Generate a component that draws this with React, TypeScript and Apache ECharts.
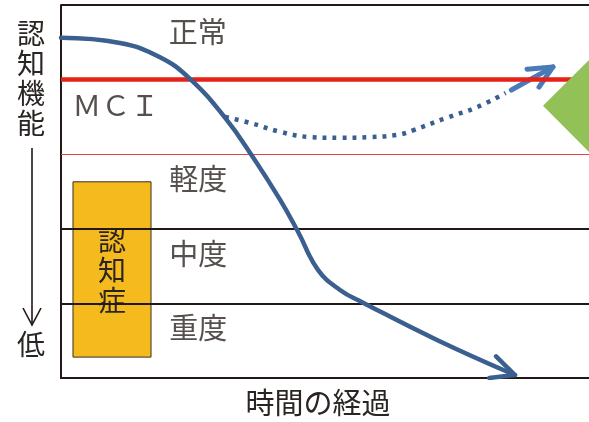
import React, { useEffect, useRef } from "react";
import * as echarts from "echarts";

// x: elapsed time (0-100), y: cognitive function level (0-5)
const bandLevels = [5, 4, 3, 2, 1];
const bandLabels = ["正常", "ＭＣＩ", "軽度", "中度", "重度"];
const bandLabelPos: [number, number][] = [
  [20.3, 4.67],
  [2.05, 3.68],
  [20.4, 2.69],
  [20.4, 1.69],
  [20.4, 0.7],
];

const mainCurve: [number, number][] = [
  [0.0, 4.56], [11.17, 4.49], [18.75, 4.3], [24.43, 4.01], [31.06, 3.49],
  [36.17, 2.98], [41.48, 2.39], [44.89, 1.96], [48.67, 1.45], [52.84, 1.18],
  [57.2, 1.01], [71.21, 0.51], [85.98, 0.04],
];
const mainHead: [number, number][] = [[82.4, 0.29], [85.98, 0.04], [81.1, 0.0]];

const mciCurve: [number, number][] = [
  [31.06, 3.5], [35.8, 3.42], [41.48, 3.3], [47.16, 3.23], [52.84, 3.22],
  [58.52, 3.23], [63.83, 3.26], [66.67, 3.32], [73.11, 3.49], [78.79, 3.63],
  [84.2, 3.82],
];
const mciShaft: [number, number][] = [[85.3, 3.86], [93.18, 4.17]];
const mciHead: [number, number][] = [[88.26, 4.14], [93.18, 4.17], [90.53, 3.9]];

const triangle: [number, number][] = [[91.29, 3.65], [102.1, 4.41], [102.1, 2.88]];

const dementiaBox = { x: [2.27, 17.05], y: [0.28, 2.63], label: "認\n知\n症" };

const yAxisTitle = "認\n知\n機\n能";
const yAxisLow = "低";
const xAxisTitle = "時間の経過";

const FONT = "'Noto Sans CJK JP', 'Noto Sans', sans-serif";
const TXT = "#2a2422";

export default function App() {
  const ref = useRef<HTMLDivElement>(null);
  useEffect(() => {
    if (!ref.current) return;
    const chart = echarts.init(ref.current, undefined, { renderer: "svg" });
    const lineStyles = [
      { color: "#231815", width: 2, type: "solid" },
      { color: "#e62117", width: 4.5, type: "solid" },
      { color: "#e0454a", width: 1.2, type: "solid" },
      { color: "#231815", width: 2, type: "solid" },
      { color: "#231815", width: 2, type: "solid" },
    ];
    chart.setOption({
      animation: false,
      grid: { left: 61, right: 0, top: 5, bottom: 44 },
      xAxis: {
        type: "value",
        min: 0,
        max: 100,
        axisLine: { show: true, lineStyle: { color: "#231815", width: 2 } },
        axisTick: { show: false },
        axisLabel: { show: false },
        splitLine: { show: false },
      },
      yAxis: {
        type: "value",
        min: 0,
        max: 5,
        axisLine: { show: true, lineStyle: { color: "#231815", width: 2 } },
        axisTick: { show: false },
        axisLabel: { show: false },
        splitLine: { show: false },
      },
      graphic: [
        {
          type: "text",
          x: 31,
          y: 77,
          style: {
            text: yAxisTitle,
            fontSize: 28,
            fontFamily: FONT,
            lineHeight: 30,
            fill: TXT,
            align: "center",
            verticalAlign: "middle",
          },
        },
        {
          type: "line",
          shape: { x1: 32, y1: 148, x2: 32, y2: 325 },
          style: { stroke: "#231815", lineWidth: 1.6 },
        },
        {
          type: "polyline",
          shape: { points: [[23, 308], [32, 325], [41, 308]] },
          style: { stroke: "#231815", lineWidth: 1.6, fill: null },
        },
        {
          type: "text",
          x: 31,
          y: 343,
          style: { text: yAxisLow, fontSize: 28, fontFamily: FONT, fill: TXT, align: "center", verticalAlign: "middle" },
        },
        {
          type: "text",
          x: 318,
          y: 401,
          style: { text: xAxisTitle, fontSize: 29, fontFamily: FONT, fill: TXT, align: "center", verticalAlign: "middle" },
        },
      ],
      series: [
        {
          type: "line",
          z: 1,
          data: [],
          markLine: {
            silent: true,
            symbol: "none",
            label: { show: false },
            data: bandLevels.map((v, i) => ({ yAxis: v, lineStyle: lineStyles[i] })),
          },
        },
        {
          type: "line",
          z: 2,
          data: [],
          markArea: {
            silent: true,
            itemStyle: { color: "#f4ba1e", borderColor: "#3a2f20", borderWidth: 1 },
            label: {
              show: true,
              position: "inside",
              color: TXT,
              fontFamily: FONT,
              fontSize: 28,
              lineHeight: 30,
            },
            data: [
              [
                { name: dementiaBox.label, xAxis: dementiaBox.x[0], yAxis: dementiaBox.y[1] },
                { xAxis: dementiaBox.x[1], yAxis: dementiaBox.y[0] },
              ],
            ],
          },
        },
        {
          type: "scatter",
          z: 3,
          symbolSize: 1,
          itemStyle: { color: "rgba(0,0,0,0)" },
          label: {
            show: true,
            position: "right",
            distance: 0,
            formatter: (p: any) => p.data[2],
            color: TXT,
            fontFamily: FONT,
            fontSize: 29,
          },
          data: bandLabelPos.map((p, i) => [p[0], p[1], bandLabels[i]]),
        },
        {
          type: "line",
          z: 4,
          data: mciCurve,
          smooth: 0.4,
          showSymbol: false,
          lineStyle: { color: "#3a5f8f", width: 4.5, type: [4, 6], cap: "butt" },
        },
        {
          type: "line",
          z: 4,
          data: mciShaft,
          showSymbol: false,
          lineStyle: { color: "#4a7ab8", width: 5, cap: "round" },
        },
        {
          type: "line",
          z: 4,
          data: mciHead,
          showSymbol: false,
          lineStyle: { color: "#4a7ab8", width: 5, cap: "round", join: "round" },
        },
        {
          type: "line",
          z: 5,
          data: mainCurve,
          smooth: 0.45,
          showSymbol: false,
          lineStyle: { color: "#3b5f8e", width: 4.5, cap: "round" },
        },
        {
          type: "line",
          z: 5,
          data: mainHead,
          showSymbol: false,
          lineStyle: { color: "#3b5f8e", width: 4.5, cap: "round", join: "round" },
        },
        {
          type: "custom",
          z: 6,
          clip: true,
          data: [0],
          renderItem: (_params: any, api: any) => ({
            type: "polygon",
            shape: { points: triangle.map((p) => api.coord(p)) },
            style: { fill: "#92c257" },
          }),
        },
      ],
    });
    return () => chart.dispose();
  }, []);
  return (
    <div
      ref={ref}
      style={{ position: "fixed", left: 0, top: 0, width: 589, height: 422 }}
    />
  );
}
